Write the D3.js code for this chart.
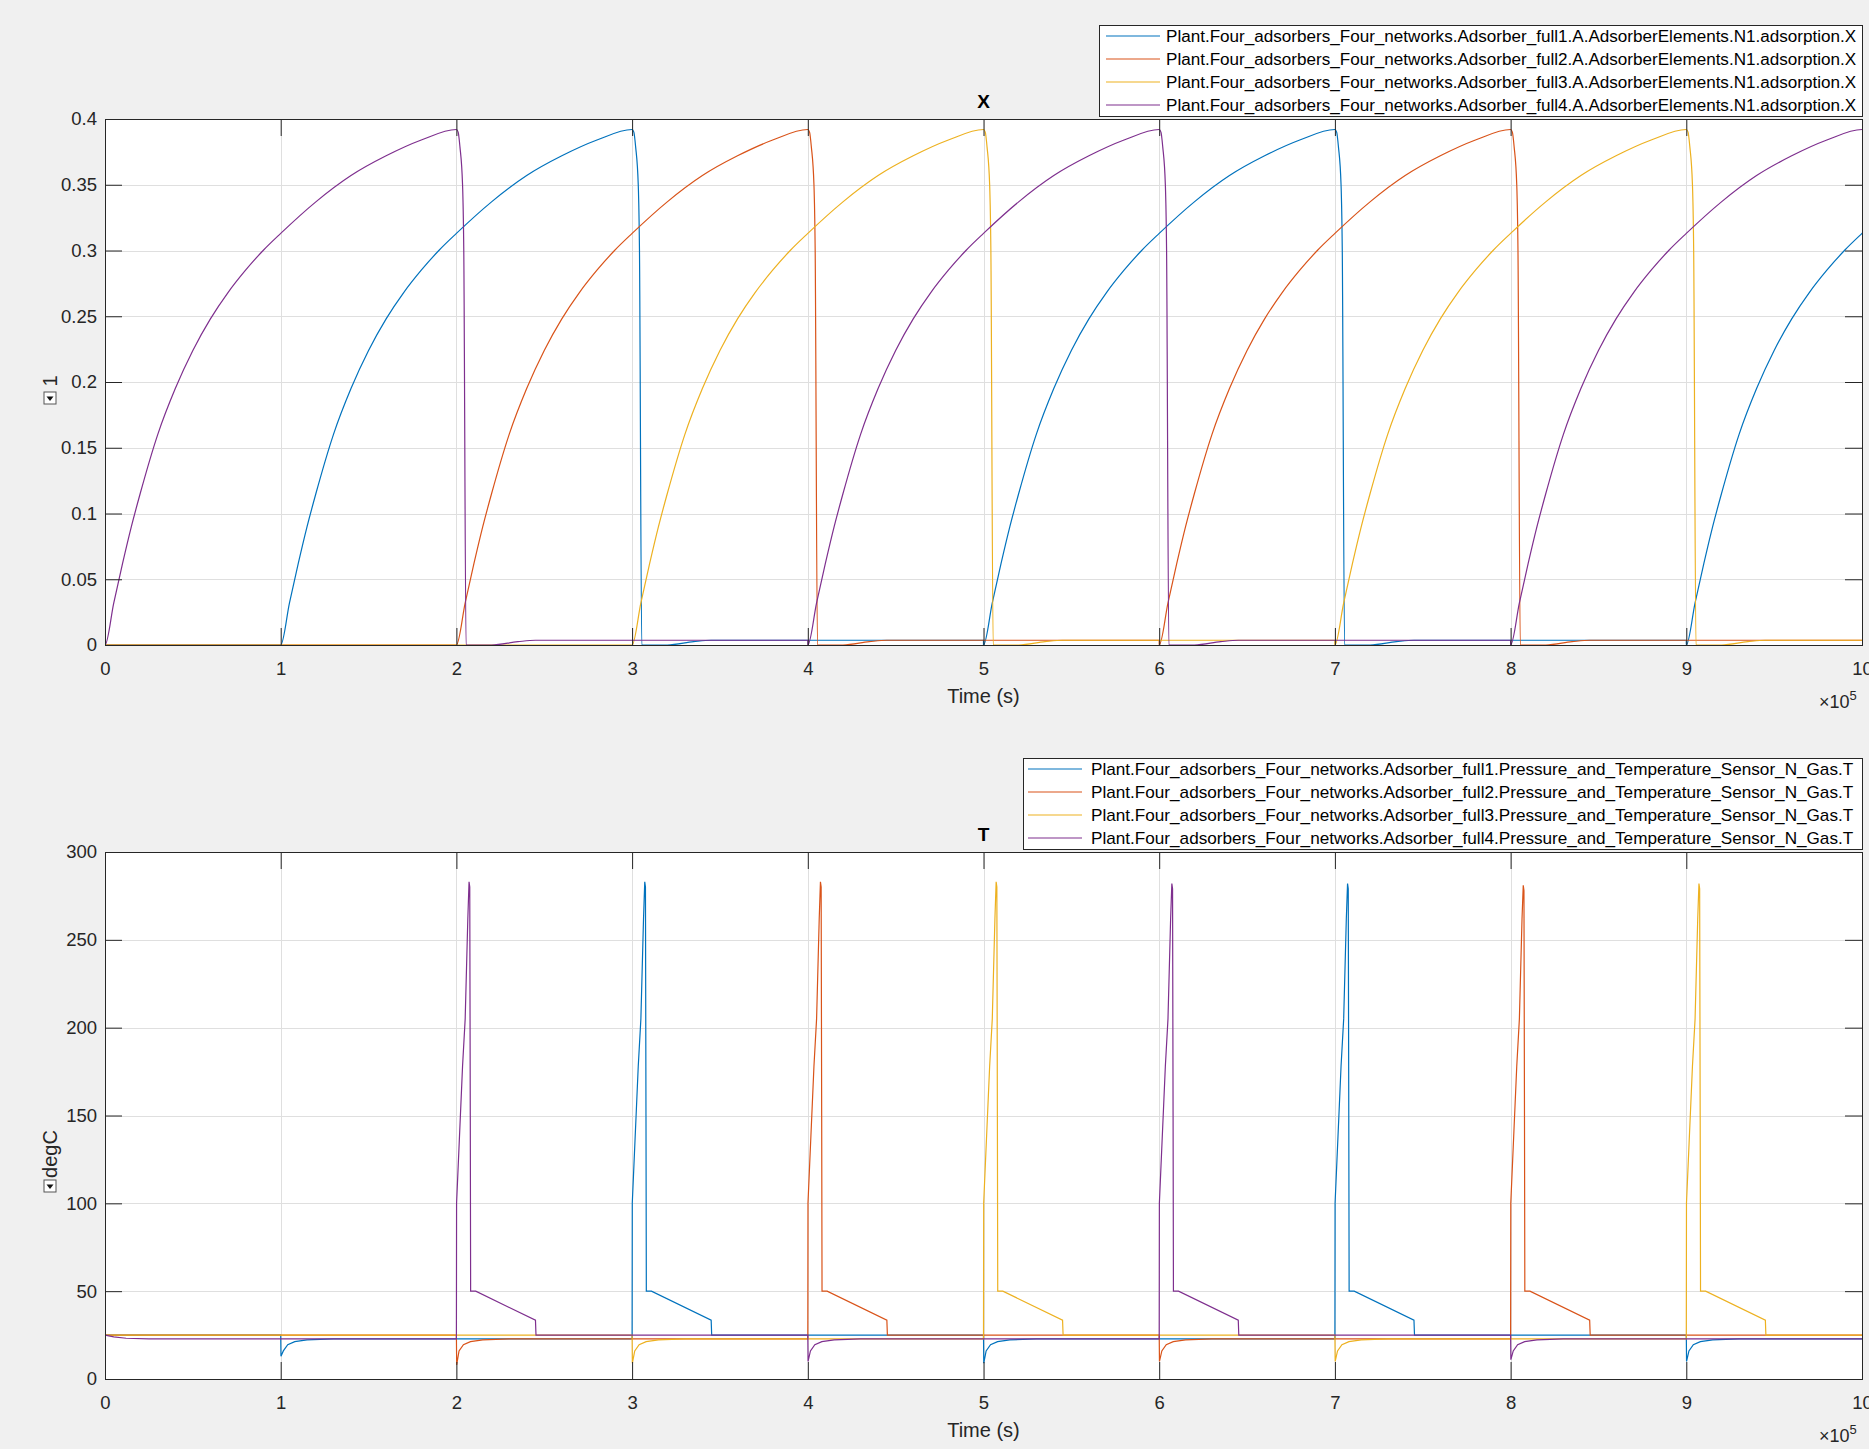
<!DOCTYPE html>
<html>
<head>
<meta charset="utf-8">
<script src="https://cdn.jsdelivr.net/npm/d3@7"></script>
<style>
  body { margin: 0; background: #f0f0f0; }
  svg { display: block; font-family: "Liberation Sans", Arial, Helvetica, sans-serif; }
</style>
</head>
<body>
<svg id="chart"></svg>
<script>
// legend texts
const xNames = [
  "Plant.Four_adsorbers_Four_networks.Adsorber_full1.A.AdsorberElements.N1.adsorption.X",
  "Plant.Four_adsorbers_Four_networks.Adsorber_full2.A.AdsorberElements.N1.adsorption.X",
  "Plant.Four_adsorbers_Four_networks.Adsorber_full3.A.AdsorberElements.N1.adsorption.X",
  "Plant.Four_adsorbers_Four_networks.Adsorber_full4.A.AdsorberElements.N1.adsorption.X"
];
const tNames = [
  "Plant.Four_adsorbers_Four_networks.Adsorber_full1.Pressure_and_Temperature_Sensor_N_Gas.T",
  "Plant.Four_adsorbers_Four_networks.Adsorber_full2.Pressure_and_Temperature_Sensor_N_Gas.T",
  "Plant.Four_adsorbers_Four_networks.Adsorber_full3.Pressure_and_Temperature_Sensor_N_Gas.T",
  "Plant.Four_adsorbers_Four_networks.Adsorber_full4.Pressure_and_Temperature_Sensor_N_Gas.T"
];
const colors = ["#0072BD", "#D95319", "#EDB120", "#7E2F8E"];

// when each adsorber starts adsorbing (s); desorption follows 2e5 s later
const adsorbStarts = [[1e5, 5e5, 9e5], [2e5, 6e5], [3e5, 7e5], [0, 4e5, 8e5]];
// temperature peak at each desorption, and low point at each adsorption start
const peakTemps = [[283, 282], [283, 281], [283, 282], [283, 282]];
const dipTemps = [[13, 9, 10], [8, 10], [9, 10], [null, 10, 11]];

// X during one adsorption: [s after start, X]
const xRise = [
  [0, 0], [5000, 0.032], [10000, 0.062], [15000, 0.09], [20000, 0.115],
  [30000, 0.16], [40000, 0.195], [50000, 0.224], [60000, 0.248], [70000, 0.268],
  [80000, 0.285], [90000, 0.3], [100000, 0.313], [120000, 0.337], [140000, 0.357],
  [160000, 0.372], [180000, 0.384], [200000, 0.392]
];
// X during the following desorption
const xDrop = [
  [201000, 0.39], [202000, 0.379], [203500, 0.35], [204200, 0.3], [205500, 0],
  [220000, 0], [235000, 0.0025], [245000, 0.0036]
];

// temperature (degC)
const tInitial = 25;
const tStart = [[0, 25], [5000, 24], [12000, 23.2], [25000, 22.8]];
const tDipRecovery = [[1500, 16], [4000, 19.5], [8000, 21.3], [15000, 22.3], [30000, 22.8]];
const tSpikeRise = [[100, 100], [3500, 178], [5000, 205], [6500, 262]];
const tSpikeFall = [[7900, 150], [8100, 50], [11000, 50], [45000, 33.5], [45300, 25]];

const xTickVals = [0, 1e5, 2e5, 3e5, 4e5, 5e5, 6e5, 7e5, 8e5, 9e5, 1e6];
const xTickLabels = ["0", "1", "2", "3", "4", "5", "6", "7", "8", "9", "10"];
const yTicksX = [0, 0.05, 0.1, 0.15, 0.2, 0.25, 0.3, 0.35, 0.4];
const yLabelsX = ["0", "0.05", "0.1", "0.15", "0.2", "0.25", "0.3", "0.35", "0.4"];
const yTicksT = [0, 50, 100, 150, 200, 250, 300];
const yLabelsT = ["0", "50", "100", "150", "200", "250", "300"];

// build series from the event times (x kept strictly increasing)
function buildX(starts) {
  const pts = [];
  let level = 0;
  if (starts[0] > 0) pts.push([0, 0]);
  starts.forEach(s => {
    pts.push([s - 1, level]);
    xRise.forEach(p => pts.push([s + p[0], p[1]]));
    xDrop.forEach(p => pts.push([s + p[0], p[1]]));
    level = xDrop[xDrop.length - 1][1];
  });
  pts.push([1.3e6, level]);
  return pts;
}

function buildT(i) {
  const starts = adsorbStarts[i];
  const pts = [];
  let level;
  if (starts[0] === 0) {
    tStart.forEach(p => pts.push(p));
    level = tStart[tStart.length - 1][1];
  } else {
    pts.push([0, tInitial]);
    level = tInitial;
  }
  starts.forEach((s, k) => {
    if (s > 0) {
      pts.push([s, level]);
      pts.push([s + 150, dipTemps[i][k]]);
      tDipRecovery.forEach(p => pts.push([s + p[0], p[1]]));
      level = tDipRecovery[tDipRecovery.length - 1][1];
    }
    const d = s + 2e5;
    if (d >= 1e6) return;
    const peak = peakTemps[i][k];
    pts.push([d, level]);
    tSpikeRise.forEach(p => pts.push([d + p[0], p[1]]));
    pts.push([d + 7200, peak]);
    pts.push([d + 7600, peak - 3]);
    tSpikeFall.forEach(p => pts.push([d + p[0], p[1]]));
    level = tSpikeFall[tSpikeFall.length - 1][1];
  });
  pts.push([1.3e6, level]);
  return pts;
}

const xSeries = adsorbStarts.map(buildX);
const tSeries = adsorbStarts.map((s, i) => buildT(i));

// layout
const width = 1869, height = 1449;
const plotLeft = 105, plotRight = 1862;
const ink = "#262626";

const svg = d3.select("#chart").attr("width", width).attr("height", height);
svg.append("rect").attr("width", width).attr("height", height).attr("fill", "#f0f0f0");
const defs = svg.append("defs");

const xScale = d3.scaleLinear().domain([0, 1e6]).range([plotLeft, plotRight]);

function drawPanel(cfg) {
  const y = d3.scaleLinear().domain(cfg.yDomain).range([cfg.bottom, cfg.top]);
  const g = svg.append("g");

  g.append("rect")
    .attr("x", plotLeft).attr("y", cfg.top)
    .attr("width", plotRight - plotLeft).attr("height", cfg.bottom - cfg.top)
    .attr("fill", "#fff");

  // grid
  g.selectAll(".vgrid").data(xTickVals.slice(1, -1)).join("line")
    .attr("x1", d => Math.round(xScale(d)) + 0.5).attr("x2", d => Math.round(xScale(d)) + 0.5)
    .attr("y1", cfg.top).attr("y2", cfg.bottom)
    .attr("stroke", "#dfdfdf");
  g.selectAll(".hgrid").data(cfg.yTicks.slice(1, -1)).join("line")
    .attr("x1", plotLeft).attr("x2", plotRight)
    .attr("y1", d => Math.round(y(d)) + 0.5).attr("y2", d => Math.round(y(d)) + 0.5)
    .attr("stroke", "#dfdfdf");

  defs.append("clipPath").attr("id", cfg.id)
    .append("rect")
    .attr("x", plotLeft).attr("y", cfg.top)
    .attr("width", plotRight - plotLeft).attr("height", cfg.bottom - cfg.top);

  const line = d3.line().curve(cfg.curve).x(d => xScale(d[0])).y(d => y(d[1]));
  g.append("g").attr("clip-path", `url(#${cfg.id})`)
    .selectAll("path").data(cfg.series).join("path")
    .attr("d", line)
    .attr("fill", "none")
    .attr("stroke", (d, i) => colors[i])
    .attr("stroke-width", 1.2);

  // axes, ticks inside on all four sides
  const axes = [
    [d3.axisBottom(xScale).tickValues(xTickVals).tickFormat((d, i) => xTickLabels[i]).tickSize(-17).tickPadding(17), `translate(0,${cfg.bottom})`],
    [d3.axisTop(xScale).tickValues(xTickVals).tickFormat("").tickSize(-17), `translate(0,${cfg.top})`],
    [d3.axisLeft(y).tickValues(cfg.yTicks).tickFormat((d, i) => cfg.yLabels[i]).tickSize(-17).tickPadding(8), `translate(${plotLeft},0)`],
    [d3.axisRight(y).tickValues(cfg.yTicks).tickFormat("").tickSize(-17), `translate(${plotRight},0)`]
  ];
  axes.forEach(([ax, tr]) => {
    const a = g.append("g").attr("transform", tr).call(ax);
    a.select(".domain").remove();
    a.selectAll("line").attr("stroke", ink);
    a.selectAll("text").attr("fill", ink).attr("font-size", 18.5)
      .attr("font-family", '"Liberation Sans", Arial, sans-serif');
  });

  g.append("rect")
    .attr("x", plotLeft + 0.5).attr("y", cfg.top + 0.5)
    .attr("width", plotRight - plotLeft).attr("height", cfg.bottom - cfg.top)
    .attr("fill", "none").attr("stroke", ink);

  // title
  g.append("text")
    .attr("x", (plotLeft + plotRight) / 2).attr("y", cfg.top - 11)
    .attr("text-anchor", "middle").attr("font-weight", "bold").attr("font-size", 19)
    .attr("fill", "#000").text(cfg.title);

  // x label and exponent
  g.append("text")
    .attr("x", (plotLeft + plotRight) / 2).attr("y", cfg.bottom + 58)
    .attr("text-anchor", "middle").attr("font-size", 20).attr("fill", ink)
    .text("Time (s)");
  const ex = g.append("text")
    .attr("x", 1819).attr("y", cfg.bottom + 63)
    .attr("font-size", 18).attr("fill", ink);
  ex.append("tspan").text("\u00d710");
  ex.append("tspan").attr("dy", -8).attr("font-size", 13).text("5");

  // y label with the small dropdown icon
  g.append("text")
    .attr("transform", `translate(50,${cfg.yLabelY}) rotate(-90)`)
    .attr("text-anchor", "middle").attr("dy", "0.35em")
    .attr("font-size", 20).attr("fill", ink)
    .text(cfg.yLabel);
  const icon = g.append("g").attr("transform", `translate(50,${cfg.iconY})`);
  icon.append("rect").attr("x", -6).attr("y", -6).attr("width", 12).attr("height", 12)
    .attr("fill", "#fff").attr("stroke", "#555");
  icon.append("path").attr("d", "M-3.5,-1.5 L3.5,-1.5 L0,3 Z").attr("fill", "#111");

  // legend
  const lg = cfg.legend;
  const leg = g.append("g");
  leg.append("rect")
    .attr("x", lg.x0 + 0.5).attr("y", lg.y0 + 0.5)
    .attr("width", plotRight - lg.x0).attr("height", lg.y1 - lg.y0)
    .attr("fill", "#fff").attr("stroke", ink);
  const rows = leg.selectAll(".row").data(cfg.names).join("g")
    .attr("transform", (d, i) => `translate(0,${lg.rowY + i * lg.rowStep})`);
  rows.append("line")
    .attr("x1", lg.lineX0).attr("x2", lg.lineX1)
    .attr("stroke", (d, i) => colors[i]).attr("stroke-width", 1.2);
  const texts = rows.append("text")
    .attr("x", lg.textX).attr("dy", "0.35em")
    .attr("font-size", 15).attr("fill", "#000")
    .text(d => d);
  const len = d3.max(texts.nodes(), n => n.getComputedTextLength());
  texts.attr("font-size", 15 * lg.textW / len);
}

drawPanel({
  id: "clipX", top: 119, bottom: 645, curve: d3.curveMonotoneX,
  yDomain: [0, 0.4], yTicks: yTicksX, yLabels: yLabelsX,
  series: xSeries, title: "X", yLabel: "1", yLabelY: 381, iconY: 398,
  names: xNames,
  legend: { x0: 1099, y0: 25, y1: 116, rowY: 36, rowStep: 23, lineX0: 1106, lineX1: 1160, textX: 1166, textW: 691 }
});

drawPanel({
  id: "clipT", top: 852, bottom: 1379, curve: d3.curveLinear,
  yDomain: [0, 300], yTicks: yTicksT, yLabels: yLabelsT,
  series: tSeries, title: "T", yLabel: "degC", yLabelY: 1154, iconY: 1186,
  names: tNames,
  legend: { x0: 1023, y0: 758, y1: 849, rowY: 769, rowStep: 23, lineX0: 1028, lineX1: 1082, textX: 1091, textW: 763 }
});
</script>
</body>
</html>
